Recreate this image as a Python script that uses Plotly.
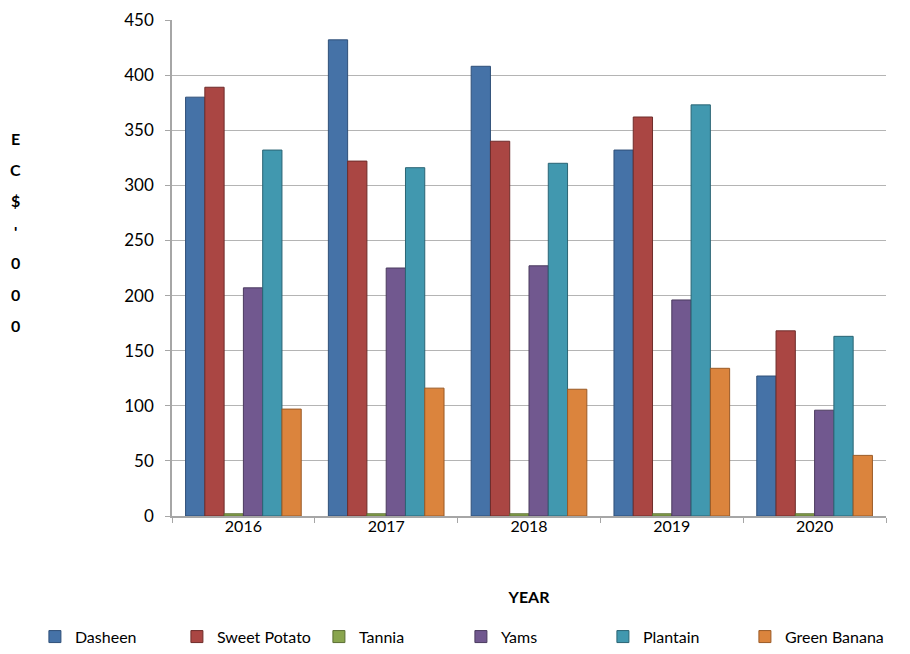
import plotly.graph_objects as go

years = ["2016", "2017", "2018", "2019", "2020"]
dasheen = [380, 432, 408, 332, 127]
sweet_potato = [389, 322, 340, 362, 168]
tannia = [2, 2, 2, 2, 2]
yams = [207, 225, 227, 196, 96]
plantain = [332, 316, 320, 373, 163]
green_banana = [97, 116, 115, 134, 55]
y_title_letters = ["E", "C", "$", "'", "0", "0", "0"]

series = [
    ("Dasheen", dasheen, "#4572A7", "#2F4F78"),
    ("Sweet Potato", sweet_potato, "#AA4643", "#6E2C2A"),
    ("Tannia", tannia, "#89A54E", "#5A6E33"),
    ("Yams", yams, "#71588F", "#4A3A5E"),
    ("Plantain", plantain, "#4198AF", "#2A6474"),
    ("Green Banana", green_banana, "#DB843D", "#9A5A26"),
]

FONT = "Lato, sans-serif"

fig = go.Figure()
for name, vals, col, edge in series:
    fig.add_trace(go.Bar(
        x=years, y=vals, name=name,
        marker=dict(color=col, line=dict(color=edge, width=1)),
    ))

# plot area: 164..878 px horizontally, 12..508 px vertically (figure coords)
plot_h = 496
annotations = []
for i, ch in enumerate(y_title_letters):
    ypx = 131 + i * 31  # figure px from top
    annotations.append(dict(
        text="<b>%s</b>" % ch, xref="paper", yref="paper",
        x=(7 - 164) / 714.0, y=(508 - ypx) / plot_h,
        xanchor="center", yanchor="middle", showarrow=False,
        font=dict(size=16),
    ))

fig.update_layout(
    width=910, height=654,
    margin=dict(l=164, r=32, t=12, b=146, autoexpand=False),
    paper_bgcolor="white", plot_bgcolor="white",
    barmode="group", bargap=0.19, bargroupgap=0.0,
    font=dict(family=FONT, size=16, color="black"),
    showlegend=True,
    legend=dict(orientation="h", x=-0.192, xanchor="left",
                y=-0.209, yanchor="top",
                font=dict(size=16), itemwidth=30, entrywidth=97,
                entrywidthmode="pixels", traceorder="normal"),
    xaxis=dict(
        type="category", showline=True, linecolor="#A6A6A6", linewidth=1.5,
        ticks="outside", tickson="boundaries", ticklen=5, tickcolor="#A6A6A6",
        ticklabelstandoff=-5,
        tickfont=dict(size=16), showgrid=False, automargin=False,
        title=dict(text="<b>YEAR</b>", font=dict(size=16), standoff=58),
    ),
    yaxis=dict(
        range=[0, 450], dtick=50, showline=True, linecolor="#A6A6A6", linewidth=1.5,
        ticks="outside", ticklen=5, tickcolor="#A6A6A6", ticklabelstandoff=8,
        gridcolor="#B4B4B4", gridwidth=1, tickfont=dict(size=17),
        zeroline=False, automargin=False,
    ),
    annotations=annotations,
)

fig.write_html("out.html")
